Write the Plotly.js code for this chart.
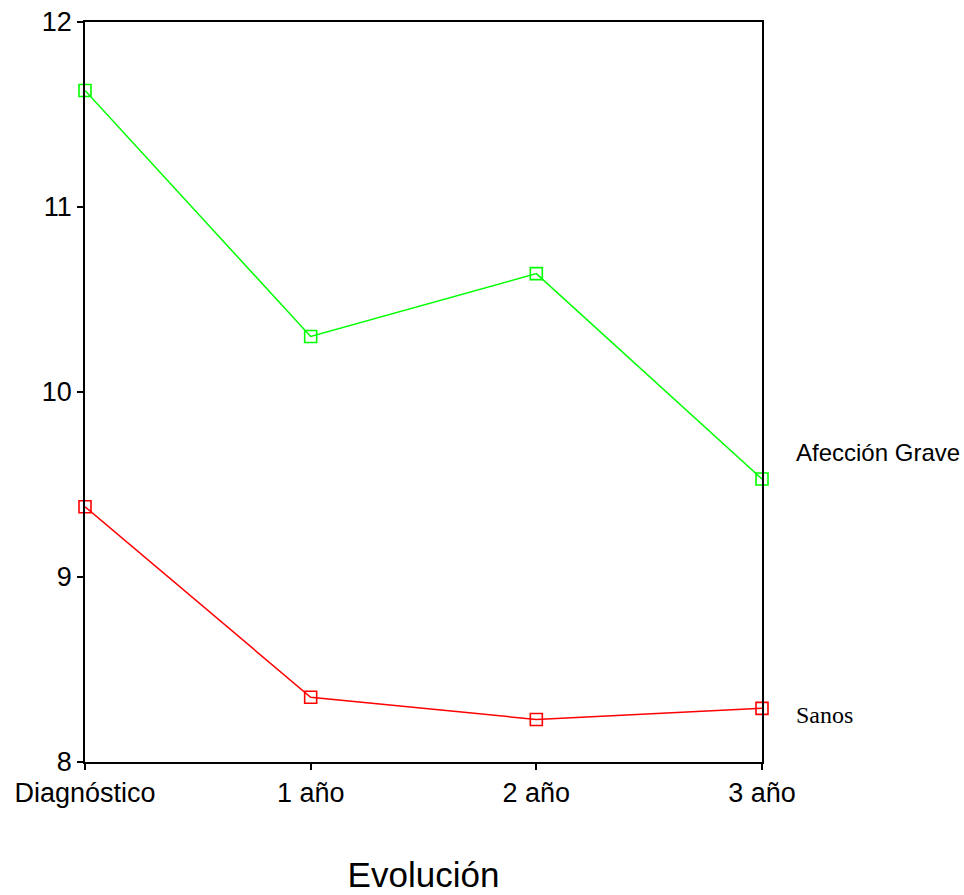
<!DOCTYPE html>
<html><head><meta charset="utf-8">
<script src="https://cdn.plot.ly/plotly-3.0.1.min.js"></script>
<style>html,body{margin:0;padding:0;background:#fff}#chart{width:964px;height:895px}</style>
</head><body><div id="chart"></div>
<script>
const categories = ["Diagnóstico", "1 año", "2 año", "3 año"];
const seriesNames = ["Afección Grave", "Sanos"];
const graveValues = [11.63, 10.30, 10.64, 9.53];
const sanosValues = [9.38, 8.35, 8.23, 8.29];
const yTicks = [8, 9, 10, 11, 12];

const idx = categories.map((c, i) => i);
const mk = (vals, color, name) => ({
  x: idx, y: vals, name: name, type: 'scatter', mode: 'lines+markers',
  line: {color: color, width: 1.5},
  marker: {symbol: 'square-open', size: 12, color: color, line: {width: 1.6, color: color}},
  cliponaxis: false, showlegend: false
});
const data = [mk(graveValues, '#00ff00', seriesNames[0]), mk(sanosValues, '#ff0000', seriesNames[1])];

const layout = {
  width: 964, height: 895,
  margin: {l: 85, r: 202, t: 22, b: 133},
  paper_bgcolor: '#fff', plot_bgcolor: '#fff',
  font: {family: 'Liberation Sans, Arial, sans-serif', color: '#000'},
  xaxis: {
    range: [0, 3], tickvals: idx, ticktext: categories,
    showgrid: false, zeroline: false, showline: true, linecolor: '#000', linewidth: 1.5,
    ticks: 'outside', ticklen: 6, tickcolor: '#000', tickwidth: 1.5,
    tickfont: {size: 27, color: '#000'}, mirror: true,
    title: {text: 'Evolución', font: {size: 35, color: '#000'}, standoff: 55}
  },
  yaxis: {
    range: [8, 12], tickvals: yTicks,
    showgrid: false, zeroline: false, showline: true, linecolor: '#000', linewidth: 1.5,
    ticks: 'outside', ticklen: 6, tickcolor: '#000', tickwidth: 1.5,
    tickfont: {size: 27, color: '#000'}, mirror: true
  },
  annotations: [
    {x: 3, y: graveValues[3], xref: 'x', yref: 'y', text: seriesNames[0], showarrow: false,
     xanchor: 'left', xshift: 32, yshift: 26, font: {size: 24, family: 'Liberation Sans, Arial, sans-serif', color: '#000'}},
    {x: 3, y: sanosValues[3], xref: 'x', yref: 'y', text: seriesNames[1], showarrow: false,
     xanchor: 'left', xshift: 32, yshift: -7, font: {size: 24, family: 'Liberation Serif, Times New Roman, serif', color: '#000'}}
  ]
};
Plotly.newPlot('chart', data, layout, {displayModeBar: false});
</script></body></html>
